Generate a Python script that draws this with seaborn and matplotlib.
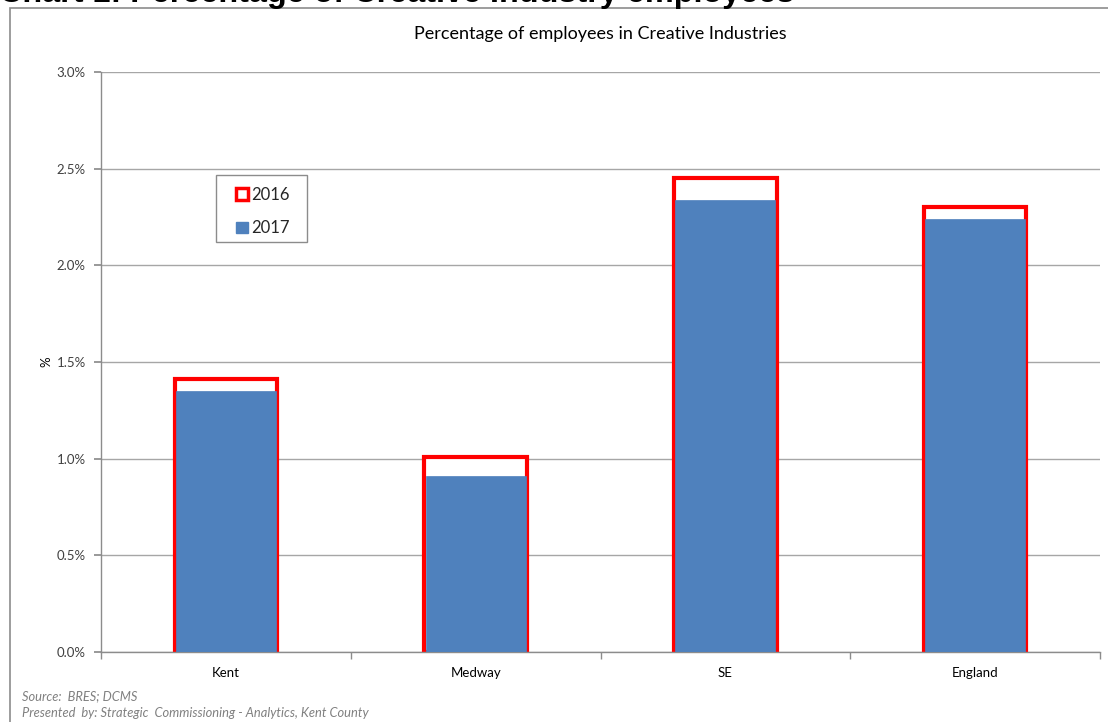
import matplotlib
matplotlib.use("Agg")
import matplotlib.pyplot as plt
from matplotlib.patches import Patch, Rectangle
from matplotlib.ticker import FuncFormatter, MultipleLocator
import seaborn as sns

# Share of employees working in the creative industries (%)
regions = ["Kent", "Medway", "SE", "England"]
share_2016 = [1.41, 1.01, 2.45, 2.30]
share_2017 = [1.35, 0.91, 2.34, 2.24]
years = ["2016", "2017"]

sns.set_theme(style="white")
plt.rcParams["font.family"] = ["Lato", "DejaVu Sans"]

grid_grey = "#a6a6a6"
text_grey = "#404040"
blue = "#4f81bd"
red = "#ff0000"

fig = plt.figure(figsize=(11.08, 7.22), dpi=100)
ax = fig.add_axes([0.0912, 0.0970, 0.9016, 0.8033])

# 2016 outline bars behind, 2017 filled bars in front
sns.barplot(x=regions, y=share_2016, color="white", edgecolor=red,
            linewidth=3, width=0.41, saturation=1, ax=ax, zorder=2)
sns.barplot(x=regions, y=share_2017, color=blue, edgecolor=blue,
            linewidth=0.5, width=0.40, saturation=1, ax=ax, zorder=3)

ax.set_xlim(-0.5, 3.5)
ax.set_ylim(0, 3.0)
ax.yaxis.set_major_locator(MultipleLocator(0.5))
ax.yaxis.set_major_formatter(FuncFormatter(lambda v, _: f"{v:.1f}%"))
ax.grid(axis="y", color=grid_grey, linewidth=1, zorder=0)
ax.set_axisbelow(True)

for side in ("top", "right"):
    ax.spines[side].set_visible(False)
for side in ("left", "bottom"):
    ax.spines[side].set_color("#8c8c8c")
    ax.spines[side].set_linewidth(1)

ax.set_xticks(range(len(regions)))
ax.set_xticklabels(regions)
ax.set_xticks([i - 0.5 for i in range(len(regions) + 1)], minor=True)
ax.tick_params(axis="x", which="major", length=0, pad=11, labelsize=9.5,
               labelcolor="black")
ax.tick_params(axis="x", which="minor", length=5, color="#8c8c8c",
               direction="out", bottom=True)
ax.tick_params(axis="y", length=5, color="#8c8c8c", direction="out",
               left=True, labelsize=9.5, labelcolor=text_grey, pad=6)

ax.set_xlabel("")
ax.set_ylabel("%", fontsize=9.5, labelpad=3, color="black")
ax.set_title("Percentage of employees in Creative Industries",
             fontsize=13, pad=24, color="black")

handles = [
    Patch(facecolor="white", edgecolor=red, linewidth=2.5, label=years[0]),
    Patch(facecolor=blue, edgecolor=blue, label=years[1]),
]
leg = ax.legend(handles=handles, loc="upper left",
                bbox_to_anchor=(0.1351, 0.802), frameon=False,
                handlelength=0.7, handleheight=0.7, handletextpad=0.2,
                labelspacing=1.05, borderpad=0, borderaxespad=0,
                fontsize=12)
# legend box with wider side padding
ax.add_patch(Rectangle((0.1151, 0.7069), 0.0911, 0.1155,
                       transform=ax.transAxes, fill=False,
                       edgecolor="#8c8c8c", linewidth=1, zorder=5,
                       clip_on=False))

# Outer chart frame
fig.patches.append(Rectangle((10 / 1108, -0.05), 1.2, 1 - 8 / 722 + 0.05,
                             transform=fig.transFigure, fill=False,
                             edgecolor="#8c8c8c", linewidth=1.2))

fig.text(-0.001, 1 - 2 / 722,
         "Chart 1: Percentage of Creative Industry employees",
         fontsize=23.3, fontweight="bold", family=["Liberation Sans"],
         ha="left", va="baseline", color="black")

fig.text(22 / 1108, 1 - 696 / 722, "Source:  BRES; DCMS", fontsize=9.3,
         style="italic", color="#808080", ha="left", va="center")
fig.text(22 / 1108, 1 - 713 / 722,
         "Presented  by: Strategic  Commissioning - Analytics, Kent County",
         fontsize=9.3, style="italic", color="#808080", ha="left", va="center")

fig.savefig("out.png", dpi=100)
